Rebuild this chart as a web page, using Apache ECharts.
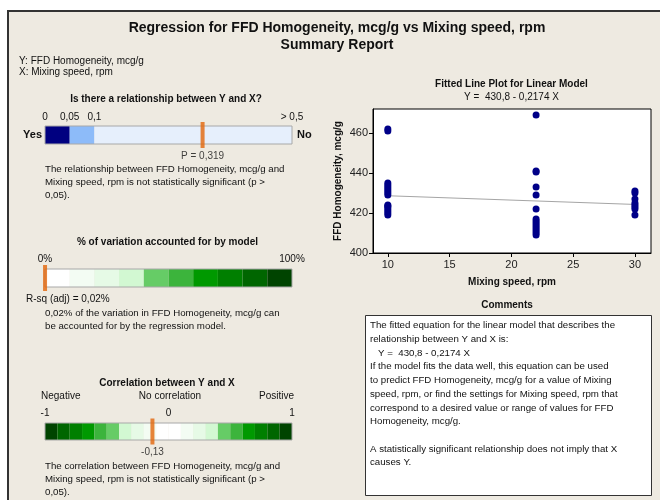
<!DOCTYPE html>
<html><head><meta charset="utf-8">
<script src="https://cdn.jsdelivr.net/npm/echarts@6/dist/echarts.min.js"></script>
<style>
html,body{margin:0;padding:0;background:#fff;overflow:hidden}
#frame{position:absolute;left:7px;top:10px;width:700px;height:600px;border:2px solid #333;background:#EEEAE1}
#c{position:absolute;left:0;top:0;width:660px;height:500px}
</style>
</head><body><div id="frame"></div><div id="c"></div>
<script>
// ---- data ----
const mixingSpeeds = [10, 22, 30];
const homogeneityAt10 = [462, 461, 435, 434, 433, 432, 431, 430, 429, 424, 423.5, 423, 422, 421, 420, 419];
const homogeneityAt22 = [469, 441, 440.5, 433, 429, 422, 417, 416, 415, 414, 413, 412, 411, 410, 409];
const homogeneityAt30 = [431, 430, 427, 425, 424, 423, 422, 419];
const fitIntercept = 430.8;
const fitSlope = -0.2174;
const xTicks = [10, 15, 20, 25, 30];
const yTicks = [400, 420, 440, 460];

const pBreaks = [0, 0.05, 0.1, 0.5];
const pTickValues = [0, 0.05, 0.1, 0.5];
const pTickLabels = ['0', '0,05', '0,1', '> 0,5'];
const pValue = 0.319;

const rsqBreaks = [0, 10, 20, 30, 40, 50, 60, 70, 80, 90, 100];
const rsqTickValues = [0, 100];
const rsqTickLabels = ['0%', '100%'];
const rsqAdj = 0.02;

const corrBreaks = [-1, -0.9, -0.8, -0.7, -0.6, -0.5, -0.4, -0.3, -0.2, -0.1, 0, 0.1, 0.2, 0.3, 0.4, 0.5, 0.6, 0.7, 0.8, 0.9, 1];
const corrTickValues = [-1, 0, 1];
const corrTickLabels = ['-1', '0', '1'];
const corrValue = -0.13;

// ---- styles ----
const FONT = '"Liberation Sans", Arial, sans-serif';
const PARA = 9.7;
const pColors = ['#000080', '#8DBBF9', '#E6EFFC'];
const greens = ['#FFFFFF', '#F3FCF3', '#E6FAE6', '#D2F8D2', '#66CC66', '#3CB43C', '#009900', '#007F00', '#006600', '#004400'];
const corrColors = greens.slice().reverse().concat(greens);
const ORANGE = '#E2650A';

function bandsFrom(breaks) {
  const out = [];
  for (let i = 0; i < breaks.length - 1; i++) out.push([breaks[i], breaks[i + 1]]);
  return out;
}
function bandSeries(gridIdx, breaks, colors) {
  return {
    type: 'custom', xAxisIndex: gridIdx, yAxisIndex: gridIdx,
    data: bandsFrom(breaks).concat([[breaks[0], breaks[breaks.length - 1]]]),
    renderItem: function (params, api) {
      const a = api.coord([api.value(0), 0]);
      const b = api.coord([api.value(1), 1]);
      const isOutline = params.dataIndex === breaks.length - 1;
      return {
        type: 'rect',
        shape: { x: a[0], y: b[1], width: b[0] - a[0], height: a[1] - b[1] },
        style: isOutline ? { fill: 'none', stroke: '#A8A8A8', lineWidth: 1 }
                         : { fill: colors[params.dataIndex], stroke: null }
      };
    },
    silent: true, z: 2
  };
}
function markerSeries(gridIdx, value, labelText, h) {
  return {
    type: 'scatter', xAxisIndex: gridIdx, yAxisIndex: gridIdx,
    data: [[value, 0.5]], symbol: 'rect', symbolSize: [4, h],
    itemStyle: { color: ORANGE }, z: 5, silent: true,
    label: labelText ? { show: true, position: 'bottom', distance: 3, formatter: labelText,
      color: '#111', fontSize: 10, fontFamily: FONT } : { show: false }
  };
}
function bandXAxis(gridIdx, min, max, vals, labels, margin) {
  return {
    gridIndex: gridIdx, type: 'value', min: min, max: max, position: 'top',
    axisLine: { show: false }, axisTick: { show: false }, splitLine: { show: false },
    axisLabel: { customValues: vals, margin: margin, color: '#111', fontSize: 10, fontFamily: FONT,
      formatter: function (v) { const i = vals.findIndex(t => Math.abs(t - v) < 1e-9); return i >= 0 ? labels[i] : ''; } }
  };
}
function bandYAxis(gridIdx) {
  return { gridIndex: gridIdx, type: 'value', min: 0, max: 1, show: false };
}

function txt(x, y, s, opt) {
  opt = opt || {};
  return {
    type: 'text', silent: true, z: 10,
    style: {
      x: x, y: y, text: s, fill: opt.color || '#111',
      font: (opt.bold ? 'bold ' : '') + (opt.size || 10) + 'px ' + FONT,
      align: opt.align || 'left', verticalAlign: 'middle'
    }
  };
}
function lines(x, y0, step, arr, opt) {
  return arr.map((s, i) => txt(x, y0 + i * step, s, opt));
}

const scatterData = [];
mixingSpeeds.forEach((sp, k) => {
  const vals = [homogeneityAt10, homogeneityAt22, homogeneityAt30][k];
  vals.forEach(v => scatterData.push([sp, v]));
});
const fitLine = [[mixingSpeeds[0], fitIntercept + fitSlope * mixingSpeeds[0]],
                 [mixingSpeeds[2], fitIntercept + fitSlope * mixingSpeeds[2]]];

const P = { size: PARA };
const graphics = [].concat(
  [txt(337, 28.5, 'Regression for FFD Homogeneity, mcg/g vs Mixing speed, rpm', { bold: true, size: 14, align: 'center' }),
   txt(337, 45.5, 'Summary Report', { bold: true, size: 14, align: 'center' }),
   txt(19, 61.5, 'Y: FFD Homogeneity, mcg/g'),
   txt(19, 72.5, 'X: Mixing speed, rpm'),
   txt(166, 99, 'Is there a relationship between Y and X?', { bold: true, align: 'center' }),
   txt(42, 135, 'Yes', { bold: true, size: 11, align: 'right' }),
   txt(297, 135, 'No', { bold: true, size: 11 })],
  lines(45, 169.5, 13, ['The relationship between FFD Homogeneity, mcg/g and',
    'Mixing speed, rpm is not statistically significant (p >', '0,05).'], P),
  [txt(167.5, 242, '% of variation accounted for by model', { bold: true, align: 'center' }),
   txt(26, 299, 'R-sq (adj) = 0,02%')],
  lines(45, 313.3, 13, ['0,02% of the variation in FFD Homogeneity, mcg/g can',
    'be accounted for by the regression model.'], P),
  [txt(167, 383.5, 'Correlation between Y and X', { bold: true, align: 'center' }),
   txt(41, 396.5, 'Negative'),
   txt(170, 396.5, 'No correlation', { align: 'center' }),
   txt(294, 396.5, 'Positive', { align: 'right' })],
  lines(45, 466, 13.2, ['The correlation between FFD Homogeneity, mcg/g and',
    'Mixing speed, rpm is not statistically significant (p >', '0,05).'], P),
  [txt(511.5, 84, 'Fitted Line Plot for Linear Model', { bold: true, align: 'center' }),
   txt(511.5, 97, 'Y =  430,8 - 0,2174 X', { align: 'center' }),
   txt(507, 305, 'Comments', { bold: true, align: 'center' }),
   { type: 'rect', z: 1, silent: true, shape: { x: 365.5, y: 315.5, width: 286, height: 180 },
     style: { fill: '#FFFFFF', stroke: '#333', lineWidth: 1 } }],
  lines(370, 325.7, 13.7, ['The fitted equation for the linear model that describes the',
    'relationship between Y and X is:', '   Y =  430,8 - 0,2174 X',
    'If the model fits the data well, this equation can be used',
    'to predict FFD Homogeneity, mcg/g for a value of Mixing',
    'speed, rpm, or find the settings for Mixing speed, rpm that',
    'correspond to a desired value or range of values for FFD',
    'Homogeneity, mcg/g.', '',
    'A statistically significant relationship does not imply that X',
    'causes Y.'], P)
);

const chart = echarts.init(document.getElementById('c'), null, { renderer: 'canvas' });
chart.setOption({
  animation: false,
  backgroundColor: 'transparent',
  textStyle: { fontFamily: FONT },
  grid: [
    { left: 373, top: 109, width: 278, height: 144, show: true, backgroundColor: '#FFFFFF', borderColor: '#000', borderWidth: 1 },
    { left: 45, top: 126, width: 247, height: 18 },
    { left: 45, top: 269, width: 247, height: 18 },
    { left: 45, top: 423, width: 247, height: 17 }
  ],
  xAxis: [
    { gridIndex: 0, type: 'value', min: 8.8, max: 31.3,
      name: 'Mixing speed, rpm', nameLocation: 'middle', nameGap: 24,
      nameTextStyle: { fontWeight: 'bold', fontSize: 10, color: '#111', fontFamily: FONT },
      axisLine: { show: true, lineStyle: { color: '#000', width: 1 } },
      axisTick: { show: true, customValues: xTicks, length: 4, lineStyle: { color: '#000' } },
      axisLabel: { customValues: xTicks, margin: 6, color: '#222', fontSize: 11, fontFamily: FONT },
      splitLine: { show: false } },
    bandXAxis(1, 0, 0.5, pTickValues, pTickLabels, 4),
    bandXAxis(2, 0, 100, rsqTickValues, rsqTickLabels, 5),
    bandXAxis(3, -1, 1, corrTickValues, corrTickLabels, 5)
  ],
  yAxis: [
    { gridIndex: 0, type: 'value', min: 400, max: 472,
      name: 'FFD Homogeneity, mcg/g', nameLocation: 'middle', nameGap: 30, nameRotate: 90,
      nameTextStyle: { fontWeight: 'bold', fontSize: 10, color: '#111', fontFamily: FONT },
      axisLine: { show: true, lineStyle: { color: '#000', width: 1 } },
      axisTick: { show: true, customValues: yTicks, length: 4, lineStyle: { color: '#000' } },
      axisLabel: { customValues: yTicks, margin: 5, color: '#222', fontSize: 11, fontFamily: FONT },
      splitLine: { show: false } },
    bandYAxis(1), bandYAxis(2), bandYAxis(3)
  ],
  series: [
    { type: 'line', xAxisIndex: 0, yAxisIndex: 0, data: fitLine, symbol: 'none',
      lineStyle: { color: '#A5A5A5', width: 1 }, z: 2, silent: true },
    { type: 'scatter', xAxisIndex: 0, yAxisIndex: 0, data: scatterData, symbolSize: 7,
      itemStyle: { color: '#000088', opacity: 1 }, z: 3, silent: true },
    bandSeries(1, pBreaks, pColors),
    markerSeries(1, pValue, 'P = 0,319', 26),
    bandSeries(2, rsqBreaks, greens),
    markerSeries(2, rsqAdj, null, 26),
    bandSeries(3, corrBreaks, corrColors),
    markerSeries(3, corrValue, '-0,13', 26)
  ],
  graphic: { elements: graphics }
});
</script>
</body></html>
